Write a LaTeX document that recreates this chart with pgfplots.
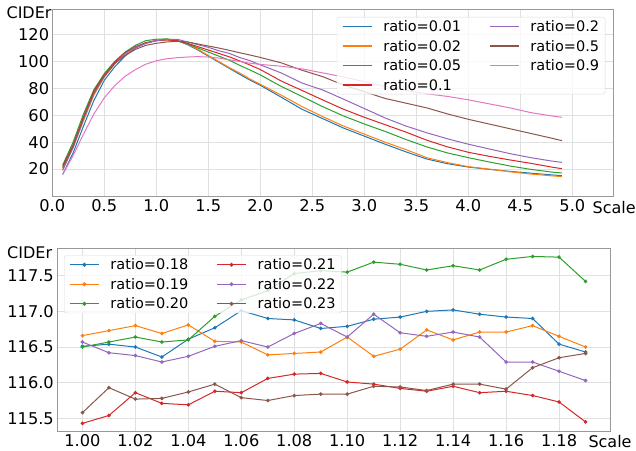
\documentclass[border=0pt]{standalone}
\usepackage{pgfplots}
\pgfplotsset{compat=1.18}
\usepackage{fontspec}
\setmainfont{DejaVu Sans}
\definecolor{c0}{HTML}{1F77B4}
\definecolor{c1}{HTML}{FF7F0E}
\definecolor{c2}{HTML}{2CA02C}
\definecolor{c3}{HTML}{D62728}
\definecolor{c4}{HTML}{9467BD}
\definecolor{c5}{HTML}{8C564B}
\definecolor{c6}{HTML}{E377C2}
\pgfplotsset{
  base/.style={
    scale only axis,
    anchor=south west,
    axis line style={draw=black!40, line width=0.9bp},
    grid=major,
    major grid style={draw=black!12, line width=0.9bp},
    major tick length=0pt,
    /pgf/number format/assume math mode=true,
    tick label style={font=\fontsize{16.2bp}{19bp}\selectfont},
    xticklabel style={inner sep=0pt, anchor=north, yshift=-3bp},
    yticklabel style={inner sep=0pt, anchor=east, xshift=-3bp},
    legend cell align=left,
    legend image code/.code={\draw[mark repeat=2,mark phase=2,##1,line width=1.3bp] plot coordinates {(0bp,0bp) (14.5bp,0bp) (29bp,0bp)};},
    legend style={
      draw=black!15, rounded corners=2.5bp, fill=white, fill opacity=0.8, text opacity=1, draw opacity=1,
      font=\fontsize{14.5bp}{17bp}\selectfont,
      inner xsep=5bp, inner ysep=3bp,
      row sep=7bp,
      nodes={inner sep=1bp, text height=10.5bp, text depth=0bp},
      /tikz/every odd column/.append style={column sep=10bp},
      /tikz/every even column/.append style={column sep=27bp},
    },
  },
}
\begin{document}
\begin{tikzpicture}
\path[use as bounding box] (0,0) rectangle (636bp,451bp);
\begin{axis}[base,
  at={(52.3bp,255bp)}, width=561bp, height=187bp,
  xmin=0, xmax=5.394, ymin=0, ymax=139,
  xtick={0,0.5,1,1.5,2,2.5,3,3.5,4,4.5,5},
  ytick={20,40,60,80,100,120},
  xticklabel style={/pgf/number format/.cd, fixed, fixed zerofill, precision=1},
  legend columns=4, transpose legend,
  legend style={at={(1,1)}, anchor=north east, xshift=-8bp, yshift=-8bp},
  every axis plot/.append style={line width=1bp},
]
\addplot[c0] coordinates {(0.1,16)(0.2,32)(0.3,52)(0.4,71)(0.5,86)(0.6,96)(0.7,104)(0.8,110)(0.9,113.5)(1.0,115.5)(1.1,116.5)(1.2,115.5)(1.3,112.5)(1.4,108.5)(1.5,104)(1.6,99.5)(1.7,95)(1.8,90.5)(1.9,86.2)(2.0,82.3)(2.2,73.5)(2.4,64.5)(2.6,57.5)(2.8,50.5)(3.0,44.5)(3.2,38.5)(3.4,32.8)(3.6,27.5)(3.8,24)(4.0,21.5)(4.2,19.8)(4.4,18.3)(4.6,17)(4.8,15.7)(4.9,15.1)};
\addlegendentry{ratio=0.01}
\addplot[c1] coordinates {(0.1,20)(0.2,36)(0.3,56)(0.4,75)(0.5,88.5)(0.6,98)(0.7,105.5)(0.8,110.5)(0.9,114)(1.0,115.5)(1.1,116)(1.2,115.5)(1.3,113)(1.4,109)(1.5,104.5)(1.6,100)(1.7,95.5)(1.8,91.5)(1.9,87)(2.0,83)(2.2,75)(2.4,66.5)(2.6,59)(2.8,52)(3.0,46)(3.2,40)(3.4,34.5)(3.6,28.5)(3.8,24.8)(4.0,21.8)(4.2,20)(4.4,18)(4.6,16.3)(4.8,15)(4.9,14.4)};
\addlegendentry{ratio=0.02}
\addplot[c2] coordinates {(0.1,23)(0.2,40)(0.3,61)(0.4,79)(0.5,91)(0.6,100)(0.7,107)(0.8,112)(0.9,115.5)(1.0,116.5)(1.1,116.8)(1.2,115.5)(1.3,113)(1.4,110)(1.5,107)(1.6,104)(1.7,101)(1.8,97.2)(1.9,93.7)(2.0,90)(2.2,81.5)(2.4,74)(2.6,66.4)(2.8,59.5)(3.0,53.5)(3.2,48)(3.4,42)(3.6,36.5)(3.8,32)(4.0,28.5)(4.2,25.3)(4.4,22.3)(4.6,19.8)(4.8,17.8)(4.9,17.1)};
\addlegendentry{ratio=0.05}
\addplot[c3] coordinates {(0.1,22)(0.2,38)(0.3,59)(0.4,78)(0.5,90)(0.6,99.5)(0.7,106.5)(0.8,111)(0.9,114)(1.0,115.5)(1.1,116)(1.2,115.5)(1.3,113.5)(1.4,111)(1.5,108.5)(1.6,106)(1.7,103.5)(1.8,100.5)(1.9,97.4)(2.0,94)(2.2,85.5)(2.4,78.5)(2.6,71.4)(2.8,64.5)(3.0,58.5)(3.2,53)(3.4,47.5)(3.6,41.5)(3.8,36.5)(4.0,32.5)(4.2,29.5)(4.4,26.8)(4.6,24.3)(4.8,21.5)(4.9,20.3)};
\addlegendentry{ratio=0.1}
\addplot[c4] coordinates {(0.1,19)(0.2,36)(0.3,57)(0.4,76)(0.5,89)(0.6,98.5)(0.7,106)(0.8,110.5)(0.9,113.5)(1.0,115.5)(1.1,116.5)(1.2,116.5)(1.3,114.5)(1.4,112.5)(1.5,110.5)(1.6,108)(1.7,106)(1.8,103)(1.9,100.6)(2.0,97.5)(2.2,91.5)(2.4,84)(2.6,78.8)(2.8,72)(3.0,65)(3.2,58)(3.4,52)(3.6,47)(3.8,42.5)(4.0,38.5)(4.2,35)(4.4,31.5)(4.6,28.5)(4.8,26)(4.9,25)};
\addlegendentry{ratio=0.2}
\addplot[c5] coordinates {(0.1,21)(0.2,37)(0.3,58)(0.4,77)(0.5,89)(0.6,98.5)(0.7,104.5)(0.8,109)(0.9,112)(1.0,113.5)(1.1,114.5)(1.2,115)(1.3,114.5)(1.4,113)(1.5,111.5)(1.6,110)(1.7,108.3)(1.8,106.5)(1.9,104.8)(2.0,103)(2.2,99)(2.4,93.5)(2.6,88.7)(2.8,82.5)(3.0,77.5)(3.2,72.5)(3.4,69)(3.6,65.5)(3.8,61)(4.0,57)(4.2,53.5)(4.4,50)(4.6,46.5)(4.8,43)(4.9,41.1)};
\addlegendentry{ratio=0.5}
\addplot[c6] coordinates {(0.1,16)(0.2,30)(0.3,46)(0.4,61)(0.5,73)(0.6,82)(0.7,89)(0.8,94)(0.9,98)(1.0,100.5)(1.1,102)(1.2,102.8)(1.3,103.3)(1.4,103.6)(1.5,103.3)(1.6,102.5)(1.7,101.3)(1.8,100)(1.9,98.7)(2.0,97.8)(2.2,96.5)(2.4,94.5)(2.6,91.5)(2.8,88.5)(3.0,85)(3.2,81.5)(3.4,78.5)(3.6,76)(3.8,74)(4.0,71.5)(4.2,68.5)(4.4,65.5)(4.6,62)(4.8,59.5)(4.9,58.5)};
\addlegendentry{ratio=0.9}
\end{axis}
\begin{axis}[base,
  at={(57bp,19.3bp)}, width=553.7bp, height=183.4bp,
  xmin=0.9904, xmax=1.1995, ymin=115.313, ymax=117.884,
  xtick={1.00,1.02,1.04,1.06,1.08,1.10,1.12,1.14,1.16,1.18},
  ytick={115.5,116,116.5,117,117.5},
  xticklabel style={/pgf/number format/.cd, fixed, fixed zerofill, precision=2},
  yticklabel style={/pgf/number format/.cd, fixed, fixed zerofill, precision=1},
  legend columns=3, transpose legend,
  legend style={at={(0,1)}, anchor=north west, xshift=7bp, yshift=-7bp},
  every axis plot/.append style={line width=1bp, mark=*, mark size=1.3bp},
]
\addplot[c0] table[row sep=\\] {x y\\ 1.00 116.51\\ 1.01 116.54\\ 1.02 116.50\\ 1.03 116.36\\ 1.04 116.61\\ 1.05 116.77\\ 1.06 117.01\\ 1.07 116.90\\ 1.08 116.88\\ 1.09 116.76\\ 1.10 116.79\\ 1.11 116.89\\ 1.12 116.92\\ 1.13 117.00\\ 1.14 117.02\\ 1.15 116.96\\ 1.16 116.92\\ 1.17 116.90\\ 1.18 116.54\\ 1.19 116.43\\};
\addlegendentry{ratio=0.18}
\addplot[c1] table[row sep=\\] {x y\\ 1.00 116.66\\ 1.01 116.73\\ 1.02 116.80\\ 1.03 116.69\\ 1.04 116.81\\ 1.05 116.58\\ 1.06 116.57\\ 1.07 116.39\\ 1.08 116.41\\ 1.09 116.43\\ 1.10 116.64\\ 1.11 116.37\\ 1.12 116.47\\ 1.13 116.74\\ 1.14 116.60\\ 1.15 116.71\\ 1.16 116.71\\ 1.17 116.80\\ 1.18 116.65\\ 1.19 116.50\\};
\addlegendentry{ratio=0.19}
\addplot[c2] table[row sep=\\] {x y\\ 1.00 116.50\\ 1.01 116.57\\ 1.02 116.64\\ 1.03 116.57\\ 1.04 116.60\\ 1.05 116.93\\ 1.06 117.16\\ 1.07 117.29\\ 1.08 117.53\\ 1.09 117.57\\ 1.10 117.55\\ 1.11 117.69\\ 1.12 117.66\\ 1.13 117.58\\ 1.14 117.64\\ 1.15 117.58\\ 1.16 117.73\\ 1.17 117.77\\ 1.18 117.76\\ 1.19 117.42\\};
\addlegendentry{ratio=0.20}
\addplot[c3] table[row sep=\\] {x y\\ 1.00 115.43\\ 1.01 115.54\\ 1.02 115.86\\ 1.03 115.71\\ 1.04 115.69\\ 1.05 115.88\\ 1.06 115.86\\ 1.07 116.06\\ 1.08 116.12\\ 1.09 116.13\\ 1.10 116.01\\ 1.11 115.98\\ 1.12 115.92\\ 1.13 115.88\\ 1.14 115.95\\ 1.15 115.86\\ 1.16 115.88\\ 1.17 115.82\\ 1.18 115.73\\ 1.19 115.45\\};
\addlegendentry{ratio=0.21}
\addplot[c4] table[row sep=\\] {x y\\ 1.00 116.57\\ 1.01 116.42\\ 1.02 116.38\\ 1.03 116.29\\ 1.04 116.37\\ 1.05 116.51\\ 1.06 116.59\\ 1.07 116.50\\ 1.08 116.69\\ 1.09 116.83\\ 1.10 116.64\\ 1.11 116.96\\ 1.12 116.70\\ 1.13 116.65\\ 1.14 116.71\\ 1.15 116.64\\ 1.16 116.29\\ 1.17 116.29\\ 1.18 116.16\\ 1.19 116.03\\};
\addlegendentry{ratio=0.22}
\addplot[c5] table[row sep=\\] {x y\\ 1.00 115.58\\ 1.01 115.93\\ 1.02 115.77\\ 1.03 115.78\\ 1.04 115.87\\ 1.05 115.98\\ 1.06 115.79\\ 1.07 115.75\\ 1.08 115.82\\ 1.09 115.84\\ 1.10 115.84\\ 1.11 115.95\\ 1.12 115.94\\ 1.13 115.89\\ 1.14 115.98\\ 1.15 115.98\\ 1.16 115.91\\ 1.17 116.21\\ 1.18 116.35\\ 1.19 116.41\\};
\addlegendentry{ratio=0.23}
\end{axis}
\node[anchor=base east, inner sep=0pt, font=\fontsize{16bp}{19bp}\selectfont] at (51.7bp,432.7bp) {CIDEr};
\node[anchor=base west, inner sep=0pt, font=\fontsize{16bp}{19bp}\selectfont] at (592.5bp,237.7bp) {Scale};
\node[anchor=base east, inner sep=0pt, font=\fontsize{16bp}{19bp}\selectfont] at (52.3bp,192.7bp) {CIDEr};
\node[anchor=base west, inner sep=0pt, font=\fontsize{16bp}{19bp}\selectfont] at (588.3bp,3.7bp) {Scale};
\end{tikzpicture}
\end{document}
